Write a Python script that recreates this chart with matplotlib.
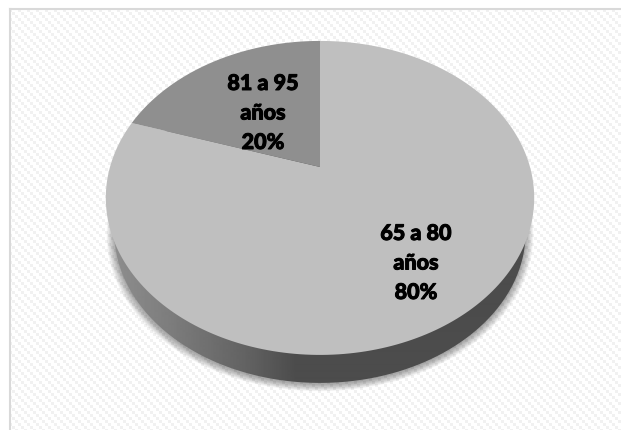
#!/usr/bin/env python3
"""Tilted 3D-look pie of age groups, drawn in pixel space with a perspective map."""
import numpy as np
import matplotlib
matplotlib.use("Agg")
import matplotlib.pyplot as plt
import matplotlib.patheffects as pe
from matplotlib.patches import Polygon

plt.rcParams["font.family"] = ["Lato", "DejaVu Sans"]

W, H = 621, 430

groups = ["65 a 80\naños", "81 a 95\naños"]
shares = [80, 20]
colors = ["#bfbfbf", "#8f8f8f"]
label_pos = [(416, 263), (263, 113)]

# pie geometry, screen pixels
CX, APEX_Y = 320, 167
PERSP = 0.197
AY, DX = 150.9, 210.0
DEPTH_SCALE, DEPTH_DY = 0.96, 35.5


def project(theta, r=1.0, scale=1.0, dy=0.0):
    # theta is clockwise from the top of the pie
    u, v = r * np.sin(theta), r * np.cos(theta)
    w = 1 + PERSP * v
    return CX + scale * DX * u / w, APEX_Y + dy - scale * AY * v / w


def rim(scale=1.0, dy=0.0):
    t = np.linspace(0, 2 * np.pi, 361)
    x, y = project(t, scale=scale, dy=dy)
    return np.column_stack([x, y])


fig = plt.figure(figsize=(W / 100, H / 100), dpi=100)
ax = fig.add_axes([0, 0, 1, 1])
ax.set_xlim(0, W)
ax.set_ylim(H, 0)
ax.axis("off")

# woven diagonal background
yy, xx = np.mgrid[0:H, 0:W]
weave = ((xx // 3 - yy // 3) % 3 == 0)
bg = np.where(weave, 0.945, 1.0)
bg[:, :9] = 1.0
bg[:8, :] = 1.0
ax.imshow(bg, cmap="gray", vmin=0, vmax=1, extent=(0, W, H, 0), zorder=0,
          interpolation="nearest", aspect="auto")
ax.plot([9.5, W], [8.5, 8.5], color="#d9d9d9", lw=1.5, zorder=1)
ax.plot([9.5, 9.5], [8.5, H], color="#d9d9d9", lw=1.5, zorder=1)

# soft shadow under the disc
for k in range(10):
    ax.add_patch(Polygon(rim(scale=DEPTH_SCALE + 0.004 * k, dy=DEPTH_DY + 1.5),
                         closed=True, fc="black", ec="none", alpha=0.04, zorder=2))

# side wall with a left-to-right shading
wall = ax.add_patch(Polygon(rim(scale=DEPTH_SCALE, dy=DEPTH_DY), closed=True,
                            fc="none", ec="none", zorder=3))
stops_x = [110, 170, 250, 295, 530]
stops_v = [0.56, 0.49, 0.38, 0.30, 0.30]
grad = np.interp(np.arange(W), stops_x, stops_v)[None, :]
im = ax.imshow(grad, cmap="gray", vmin=0, vmax=1, extent=(0, W, H, 0), zorder=3,
               aspect="auto", interpolation="bilinear")
im.set_clip_path(wall)

# top face, slices run clockwise from 12 o'clock
angles = np.cumsum([0] + shares) / sum(shares) * 2 * np.pi
for i, c in enumerate(colors):
    t = np.linspace(angles[i], angles[i + 1], 240)
    x, y = project(t)
    pts = np.column_stack([np.r_[CX, x], np.r_[APEX_Y, y]])
    ax.add_patch(Polygon(pts, closed=True, fc=c, ec="none", zorder=4 + i))

# the installed bold is light next to the reference, thicken it a little
for g, s, (lx, ly) in zip(groups, shares, label_pos):
    ax.text(lx, ly, f"{g}\n{s}%", ha="center", va="center", fontsize=15.5,
            fontweight=900, color="black", linespacing=1.5, zorder=8,
            path_effects=[pe.withStroke(linewidth=0.7, foreground="black")])

fig.savefig("out.png", dpi=100)
